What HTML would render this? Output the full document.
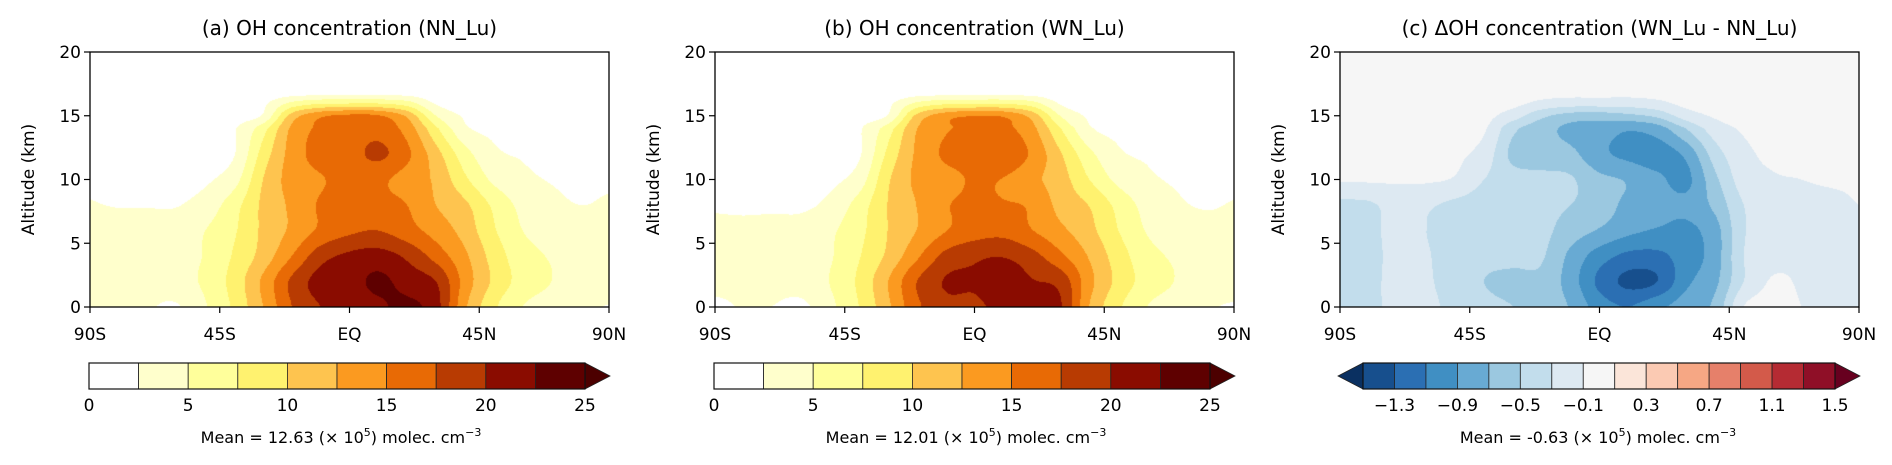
<!DOCTYPE html>
<html><head><meta charset="utf-8">
<style>
html,body{margin:0;padding:0;background:#fff;}
#wrap{position:relative;width:1892px;height:465px;overflow:hidden;font-family:"DejaVu Sans","Liberation Sans",sans-serif;}
canvas{position:absolute;}
svg{position:absolute;left:0;top:0;}
</style></head>
<body>
<div id="wrap">
<canvas id="cv0" width="519" height="255" style="left:90px;top:52px"></canvas>
<canvas id="cv1" width="519" height="255" style="left:715px;top:52px"></canvas>
<canvas id="cv2" width="519" height="255" style="left:1340px;top:52px"></canvas>
<svg id="ov" width="1892" height="465"></svg>
</div>
<script>
// ---- data ----
const lats = [-90,-80,-70,-60,-50,-40,-30,-20,-10,0,10,20,30,40,50,60,70,80,90];
const alts = [0,2,4,6,8,10,12,14,15,16,17,18,20];
const ohNN = [
[2.5,3,2.7,2.3,4.8,8,12.5,17.5,20,20.5,22,23,21,13,8,5,4,3,2.4],
[3.5,3.5,3.5,4,5.5,8.5,13,18,21,21.5,23,21.5,20,14,9.5,6.5,5,4,4],
[3.5,3.5,3.5,4,5.2,7.8,11,15,19,20.5,21,19.5,16.5,13,9,6,4.8,4,4],
[3.5,3.5,3.5,3.8,5,7.2,10.5,13,15.5,17,17.5,16,14,11.5,7.8,5,4,3.5,3.5],
[2.6,2.4,2.4,2.4,3.5,6.5,10.5,13,15.3,16,15.8,15,12.5,10.5,7,4.3,3,2.5,2.7],
[2.3,2,2,2,2.2,4,10,13.5,14.8,15.8,15.5,14,12,8,4.5,3,2.4,2.3,2.3],
[1.5,1.5,1.5,1.5,2,2.4,8.5,13.5,16,16.5,18,15.5,11,6,3,2.3,2,1.8,1.8],
[1.5,1.5,1.5,1.5,1.5,2.3,6.5,13,15.5,16,16.5,14,8,3,2,1.5,1.5,1.5,1.5],
[1.5,1.5,1.5,1.5,1.5,1.5,2.8,11,14.5,15.5,15.2,12,5,2.2,1.5,1.5,1.5,1.5,1.5],
[1,1,1,1,1,1.2,2,5.5,7,7.2,7.2,6,2.2,1.2,1,1,1,1,1],
[0.5,0.5,0.5,0.5,0.5,0.5,0.5,0.5,0.5,0.5,0.5,0.5,0.5,0.5,0.5,0.5,0.5,0.5,0.5],
[0.3,0.3,0.3,0.3,0.3,0.3,0.3,0.3,0.3,0.3,0.3,0.3,0.3,0.3,0.3,0.3,0.3,0.3,0.3],
[0.3,0.3,0.3,0.3,0.3,0.3,0.3,0.3,0.3,0.3,0.3,0.3,0.3,0.3,0.3,0.3,0.3,0.3,0.3]
];
const ohWN = [
[2.12,2.62,2.48,2.0,4.42,7.55,12.0,16.95,19.28,19.5,20.9,22.05,20.2,12.35,7.9,4.95,3.9,2.85,2.25],
[3.12,3.12,3.25,3.68,5.1,8.0,12.48,17.48,20.2,20.35,21.65,20.2,19.05,13.25,9.2,6.42,4.88,3.85,3.85],
[3.12,3.12,3.23,3.68,4.78,7.35,10.55,14.52,18.25,19.5,19.85,18.35,15.5,12.2,8.7,5.82,4.65,3.85,3.85],
[3.12,3.14,3.25,3.48,4.58,6.77,10.05,12.55,14.9,16.28,16.65,15.08,13.05,10.72,7.48,4.8,3.82,3.33,3.35],
[2.25,2.07,2.15,2.12,3.15,6.1,10.08,12.55,14.8,15.4,15.2,14.6,11.65,9.85,6.7,4.1,2.83,2.35,2.6],
[2.22,1.92,1.92,1.92,2.05,3.7,9.62,13.05,14.3,15.2,14.9,13.15,11.05,7.45,4.3,2.88,2.3,2.22,2.22],
[1.43,1.43,1.43,1.43,1.93,2.25,8.1,12.95,15.35,15.65,17.05,14.5,10.15,5.6,2.85,2.23,1.93,1.73,1.73],
[1.45,1.45,1.45,1.45,1.44,2.24,6.3,12.45,14.78,15.2,15.62,13.2,7.5,2.8,1.92,1.45,1.45,1.45,1.45],
[1.45,1.45,1.45,1.45,1.45,1.45,2.65,10.6,13.95,14.9,14.65,11.55,4.8,2.12,1.45,1.45,1.45,1.45,1.45],
[0.95,0.95,0.95,0.95,0.95,1.15,1.95,5.35,6.8,7.0,7.0,5.85,2.15,1.15,0.95,0.95,0.95,0.95,0.95],
[0.5,0.5,0.5,0.5,0.5,0.5,0.5,0.5,0.5,0.5,0.5,0.5,0.5,0.5,0.5,0.5,0.5,0.5,0.5],
[0.3,0.3,0.3,0.3,0.3,0.3,0.3,0.3,0.3,0.3,0.3,0.3,0.3,0.3,0.3,0.3,0.3,0.3,0.3],
[0.3,0.3,0.3,0.3,0.3,0.3,0.3,0.3,0.3,0.3,0.3,0.3,0.3,0.3,0.3,0.3,0.3,0.3,0.3]
];
const ohDiff = [
[-0.38,-0.38,-0.2,-0.25,-0.36,-0.45,-0.5,-0.55,-0.72,-1.0,-1.1,-0.95,-0.8,-0.65,-0.1,-0.05,-0.1,-0.15,-0.15],
[-0.38,-0.38,-0.2,-0.27,-0.4,-0.5,-0.55,-0.55,-0.8,-1.15,-1.35,-1.3,-0.95,-0.75,-0.3,-0.08,-0.12,-0.15,-0.15],
[-0.38,-0.38,-0.22,-0.28,-0.42,-0.45,-0.45,-0.48,-0.75,-1.0,-1.15,-1.15,-1.0,-0.8,-0.3,-0.18,-0.15,-0.15,-0.15],
[-0.38,-0.36,-0.22,-0.3,-0.42,-0.43,-0.45,-0.45,-0.6,-0.72,-0.85,-0.92,-0.95,-0.78,-0.32,-0.2,-0.18,-0.17,-0.15],
[-0.35,-0.33,-0.22,-0.27,-0.35,-0.4,-0.42,-0.45,-0.5,-0.6,-0.75,-0.8,-0.85,-0.65,-0.3,-0.2,-0.17,-0.15,-0.1],
[-0.08,-0.08,-0.08,-0.08,-0.12,-0.3,-0.42,-0.45,-0.48,-0.65,-0.72,-0.85,-0.95,-0.55,-0.2,-0.12,-0.1,-0.08,-0.08],
[-0.07,-0.07,-0.07,-0.07,-0.07,-0.18,-0.55,-0.6,-0.65,-0.85,-0.95,-1.0,-0.85,-0.4,-0.15,-0.07,-0.07,-0.07,-0.07],
[-0.05,-0.05,-0.05,-0.05,-0.06,-0.08,-0.45,-0.62,-0.75,-0.8,-0.88,-0.8,-0.5,-0.2,-0.08,-0.05,-0.05,-0.05,-0.05],
[-0.05,-0.05,-0.05,-0.05,-0.05,-0.05,-0.2,-0.45,-0.58,-0.6,-0.55,-0.45,-0.2,-0.08,-0.05,-0.05,-0.05,-0.05,-0.05],
[-0.05,-0.05,-0.05,-0.05,-0.05,-0.05,-0.05,-0.15,-0.2,-0.2,-0.2,-0.15,-0.05,-0.05,-0.05,-0.05,-0.05,-0.05,-0.05],
[-0.02,-0.02,-0.02,-0.02,-0.02,-0.02,-0.02,-0.02,-0.02,-0.02,-0.02,-0.02,-0.02,-0.02,-0.02,-0.02,-0.02,-0.02,-0.02],
[-0.02,-0.02,-0.02,-0.02,-0.02,-0.02,-0.02,-0.02,-0.02,-0.02,-0.02,-0.02,-0.02,-0.02,-0.02,-0.02,-0.02,-0.02,-0.02],
[-0.02,-0.02,-0.02,-0.02,-0.02,-0.02,-0.02,-0.02,-0.02,-0.02,-0.02,-0.02,-0.02,-0.02,-0.02,-0.02,-0.02,-0.02,-0.02]
];
const ohLevels = [0,2.5,5,7.5,10,12.5,15,17.5,20,22.5,25];
const ohColors = ["#ffffff","#ffffcc","#ffff9b","#fff26f","#fec44f","#fb9a20","#e86a05","#b83b02","#8a0c00","#5e0000"];
const ohOver = "#4c0000";
const diffLevels = [-1.5,-1.3,-1.1,-0.9,-0.7,-0.5,-0.3,-0.1,0.1,0.3,0.5,0.7,0.9,1.1,1.3,1.5];
const diffColors = ["#174f8d","#2b6fb3","#408fc3","#68aad3","#9bc8e0","#c2ddec","#dde9f2","#f6f6f6","#fbe5d9","#fbcab3","#f6a784","#e6806a","#d35a4a","#b52b33","#8f0f27"];
const diffUnder = "#0a3061", diffOver = "#67001f";
const ohTicks = ["0","5","10","15","20","25"];
const diffTicks = ["\u22121.3","\u22120.9","\u22120.5","\u22120.1","0.3","0.7","1.1","1.5"];
const yTicks = [0,5,10,15,20];
const xTicks = ["90S","45S","EQ","45N","90N"];
const titles = ["(a) OH concentration (NN_Lu)","(b) OH concentration (WN_Lu)","(c) \u0394OH concentration (WN_Lu - NN_Lu)"];
const means = ["12.63","12.01","-0.63"];

// ---- geometry ----
const offs = [0,625,1250];
const PL = 90, PW = 519, PT = 52, PH = 255;

function cr(p0,p1,p2,p3,t){
  return 0.5*((2*p1)+(-p0+p2)*t+(2*p0-5*p1+4*p2-p3)*t*t+(-p0+3*p1-3*p2+p3)*t*t*t);
}
function altIndex(alt){
  let j = 0; while (j < alts.length-2 && alt > alts[j+1]) j++;
  return j + Math.max(0, Math.min(1, (alt-alts[j])/(alts[j+1]-alts[j])));
}
function sample(g, lat, alt){
  const nx = lats.length, ny = alts.length;
  const fx = (lat+90)/10, fy = altIndex(alt);
  const i = Math.min(nx-2, Math.floor(fx)), j = Math.min(ny-2, Math.floor(fy));
  const tx = fx - i, ty = fy - j;
  const row = r => {
    const rr = g[Math.max(0, Math.min(ny-1, r))];
    const v = k => rr[Math.max(0, Math.min(nx-1, k))];
    return cr(v(i-1), v(i), v(i+1), v(i+2), tx);
  };
  return cr(row(j-1), row(j), row(j+1), row(j+2), ty);
}
function hex(h){return [parseInt(h.substr(1,2),16),parseInt(h.substr(3,2),16),parseInt(h.substr(5,2),16)];}
function colorFor(v, levels, colors, under, over){
  if (v < levels[0]) return under || colors[0];
  for (let k=0;k<colors.length;k++) if (v < levels[k+1]) return colors[k];
  return over;
}
function drawField(id, g, levels, colors, under, over){
  const cv = document.getElementById(id), ctx = cv.getContext('2d');
  const img = ctx.createImageData(PW, PH);
  const cache = {};
  for (let py=0; py<PH; py++){
    const alt = 20*(1-(py+0.5)/PH);
    for (let px=0; px<PW; px++){
      const lat = -90 + (px+0.5)/PW*180;
      const col = colorFor(sample(g,lat,alt), levels, colors, under, over);
      const rgb = cache[col] || (cache[col] = hex(col));
      const o = (py*PW+px)*4;
      img.data[o]=rgb[0]; img.data[o+1]=rgb[1]; img.data[o+2]=rgb[2]; img.data[o+3]=255;
    }
  }
  ctx.putImageData(img,0,0);
}
drawField('cv0', ohNN, ohLevels, ohColors, null, ohOver);
drawField('cv1', ohWN, ohLevels, ohColors, null, ohOver);
drawField('cv2', ohDiff, diffLevels, diffColors, diffUnder, diffOver);

// ---- overlay ----
const NS = "http://www.w3.org/2000/svg";
const svg = document.getElementById('ov');
function el(tag, attrs, parent){
  const e = document.createElementNS(NS, tag);
  for (const k in attrs) e.setAttribute(k, attrs[k]);
  (parent||svg).appendChild(e); return e;
}
const panelNames = ['nn-lu','wn-lu','difference'];
for (let p=0;p<3;p++){
  const ox = offs[p], L = PL+ox;
  const g = el('g', {});
  
  
  const t = el('text', {x: L+PW/2, y: 35, 'text-anchor':'middle', 'font-size':'20', fill:'#000'}, g);
  t.textContent = titles[p];
  
  
  const fr = el('rect', {x:L, y:PT, width:PW, height:PH, fill:'none', stroke:'#000', 'stroke-width':'1.3'}, g);
  
  
  yTicks.forEach(v=>{
    const y = PT + PH*(1 - v/20);
    el('line', {x1:L-6, x2:L, y1:y, y2:y, stroke:'#000', 'stroke-width':'1.2'}, g);
    const tx = el('text', {x:L-9, y:y+6, 'text-anchor':'end', 'font-size':'17'}, g);
    tx.textContent = v;
    
    
  });
  xTicks.forEach((s,k)=>{
    const x = L + PW*k/4;
    el('line', {x1:x, x2:x, y1:PT+PH, y2:PT+PH+6, stroke:'#000', 'stroke-width':'1.2'}, g);
    const tx = el('text', {x:x, y:340, 'text-anchor':'middle', 'font-size':'17'}, g);
    tx.textContent = s;
    
    
  });
  const yl = el('text', {x:0, y:0, transform:`translate(${L-56},${PT+PH/2}) rotate(-90)`, 'text-anchor':'middle', 'font-size':'17'}, g);
  yl.textContent = 'Altitude (km)';
  
  

  const cb = el('g', {}, g);
  
  
  const CT = 363, CH = 26;
  let cl, cw, cols, ticks, tickIdx;
  if (p < 2){ cl = 89+ox; cw = 496; cols = ohColors; ticks = ohTicks; tickIdx = [0,2,4,6,8,10]; }
  else { cl = 1363; cw = 472; cols = diffColors; ticks = diffTicks; tickIdx = [1,3,5,7,9,11,13,15]; }
  const bw = cw/cols.length;
  cols.forEach((c,k)=>{
    const r = el('rect', {x:cl+k*bw, y:CT, width:bw, height:CH, fill:c, stroke:'#222', 'stroke-width':'0.8'}, cb);
    
    
  });
  const tipW = 25;
  const over = el('polygon', {points:`${cl+cw},${CT} ${cl+cw+tipW},${CT+CH/2} ${cl+cw},${CT+CH}`, fill: p<2?ohOver:diffOver, stroke:'#222','stroke-width':'0.8'}, cb);
  
  
  if (p === 2){
    const un = el('polygon', {points:`${cl},${CT} ${cl-tipW},${CT+CH/2} ${cl},${CT+CH}`, fill:diffUnder, stroke:'#222','stroke-width':'0.8'}, cb);
    
    
  }
  el('rect', {x:cl, y:CT, width:cw, height:CH, fill:'none', stroke:'#111', 'stroke-width':'1.2'}, cb);
  tickIdx.forEach((bi,k)=>{
    const x = cl + bi*bw;
    const tx = el('text', {x:x, y:411, 'text-anchor':'middle', 'font-size':'17'}, cb);
    tx.textContent = ticks[k];
    
    
  });
  const mt = el('text', {x: p<2 ? cl+cw/2+4 : 1598, y:443, 'text-anchor':'middle', 'font-size':'16'}, g);
  
  
  const parts = [['Mean = '+means[p]+' (\u00d7 10',0,'0'],['5',1,'-7'],[') molec. cm',0,'7'],['\u22123',1,'-7']];
  parts.forEach(([s,sup,dy])=>{
    const ts = el('tspan', {'font-size': sup ? '11' : '16', dy: dy}, mt);
    ts.textContent = s;
  });
}
</script>
</body></html>
